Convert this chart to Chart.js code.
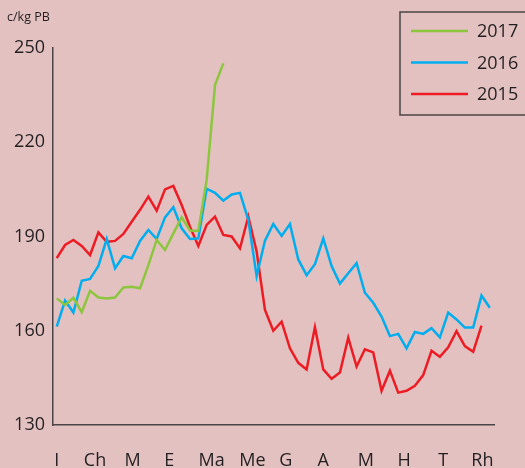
<!DOCTYPE html>
<html lang="cy">
<head>
    <meta charset="UTF-8">
    <title>c/kg PB</title>
    <script src="https://cdn.jsdelivr.net/npm/chart.js"></script>
    <style>
        html, body {
            margin: 0;
            padding: 0;
            background-color: #e3c1c1;
        }
        .wrap {
            width: 525px;
            height: 468px;
            position: relative;
        }
    </style>
</head>
<body>
    <div class="wrap">
        <canvas id="priceChart"></canvas>
    </div>
    <script>
        // weekly prices, c/kg
        const prices2017 = [170.3, 168.2, 170.5, 165.9, 172.7, 170.6, 170.3, 170.6, 173.8, 174.0,
            173.5, 180.9, 188.9, 185.7, 191.0, 196.1, 191.9, 191.8, 208.0, 238.2, 245.1];
        const prices2016 = [161.3, 169.6, 165.8, 175.9, 176.5, 180.6, 189.2, 179.9, 183.8, 183.1,
            188.6, 192.1, 189.2, 196.1, 199.3, 192.6, 189.2, 189.4, 205.2, 203.9,
            201.4, 203.4, 203.9, 195.3, 177.4, 188.7, 194.0, 190.2, 194.0, 182.7,
            177.7, 181.2, 189.4, 180.6, 175.0, 178.3, 181.5, 172.1, 168.9, 164.5,
            158.3, 159.0, 154.4, 159.6, 159.0, 160.8, 157.9, 165.8, 163.6, 161.0,
            161.0, 171.2, 167.3];
        const prices2015 = [183.1, 187.3, 188.9, 187.0, 184.1, 191.3, 188.3, 188.6, 190.8, 194.7,
            198.5, 202.7, 198.2, 205.0, 206.1, 200.0, 193.1, 187.0, 193.7, 196.3,
            190.5, 190.0, 186.2, 196.3, 185.2, 166.6, 160.0, 162.9, 154.4, 149.8,
            147.7, 161.1, 147.7, 144.7, 146.7, 157.8, 148.6, 154.1, 153.1, 140.9,
            147.3, 140.3, 140.9, 142.5, 145.9, 153.6, 151.7, 154.7, 159.9, 155.1,
            153.3, 161.6];
        const seriesNames = ["2017", "2016", "2015"];
        const seriesColors = ["#8cc63f", "#00aeef", "#ed1c24"];

        // month labels and the week where each one sits
        const monthLabels = ["I", "Ch", "M", "E", "Ma", "Me", "G", "A", "M", "H", "T", "Rh"];
        const monthWeeks = [0, 4.6, 9.1, 13.5, 18.6, 23.5, 27.5, 32, 37.1, 41.7, 46.4, 51.1];
        const yTicks = [130, 160, 190, 220, 250];

        const weeks = prices2016.map((v, i) => i);
        const axisColor = "#4a4446";
        const fontFamily = "'Open Sans', sans-serif";

        const boxLegend = {
            id: "boxLegend",
            afterDraw(chart) {
                const ctx = chart.ctx;
                ctx.save();
                ctx.fillStyle = "#e3c1c1";
                ctx.fillRect(400, 12, 130, 103);
                ctx.strokeStyle = axisColor;
                ctx.lineWidth = 1.5;
                ctx.strokeRect(400, 12, 140, 103);
                ctx.font = "18px " + fontFamily;
                ctx.textBaseline = "middle";
                chart.data.datasets.forEach((ds, i) => {
                    const y = 31 + i * 31.5;
                    ctx.strokeStyle = ds.borderColor;
                    ctx.lineWidth = 2.5;
                    ctx.beginPath();
                    ctx.moveTo(411, y);
                    ctx.lineTo(468, y);
                    ctx.stroke();
                    ctx.fillStyle = "#231f20";
                    ctx.fillText(ds.label, 477, y + 1);
                });
                ctx.font = "12.5px " + fontFamily;
                ctx.textBaseline = "alphabetic";
                ctx.fillText("c/kg PB", 7, 21);
                ctx.restore();
            }
        };

        const seriesData = [prices2017, prices2016, prices2015];

        new Chart(document.getElementById("priceChart"), {
            type: "line",
            data: {
                labels: weeks,
                datasets: seriesNames.map((name, i) => ({
                    label: name,
                    data: seriesData[i],
                    borderColor: seriesColors[i],
                    borderWidth: 2.5,
                    pointRadius: 0,
                    tension: 0,
                    fill: false
                }))
            },
            options: {
                responsive: true,
                maintainAspectRatio: false,
                animation: false,
                layout: {
                    padding: { top: 48, right: 31, left: 0, bottom: 0 }
                },
                plugins: {
                    legend: { display: false },
                    tooltip: { enabled: false }
                },
                scales: {
                    x: {
                        type: "linear",
                        min: -0.45,
                        max: 52.5,
                        grid: { display: false, drawTicks: false },
                        border: { display: true, color: axisColor, width: 1.5 },
                        afterBuildTicks: scale => {
                            scale.ticks = monthWeeks.map(v => ({ value: v }));
                        },
                        afterFit: scale => { scale.height = 43; },
                        ticks: {
                            autoSkip: false,
                            maxRotation: 0,
                            padding: 25,
                            color: "#231f20",
                            font: { family: fontFamily, size: 18 },
                            callback: (v, i) => monthLabels[i]
                        }
                    },
                    y: {
                        min: 130,
                        max: 250,
                        grid: { display: false, drawTicks: false },
                        border: { display: true, color: axisColor, width: 1.5 },
                        afterBuildTicks: scale => {
                            scale.ticks = yTicks.map(v => ({ value: v }));
                        },
                        afterFit: scale => { scale.width = 53; },
                        ticks: {
                            padding: 8,
                            color: "#231f20",
                            font: { family: fontFamily, size: 18 }
                        }
                    }
                }
            },
            plugins: [boxLegend]
        });
    </script>
</body>
</html>
